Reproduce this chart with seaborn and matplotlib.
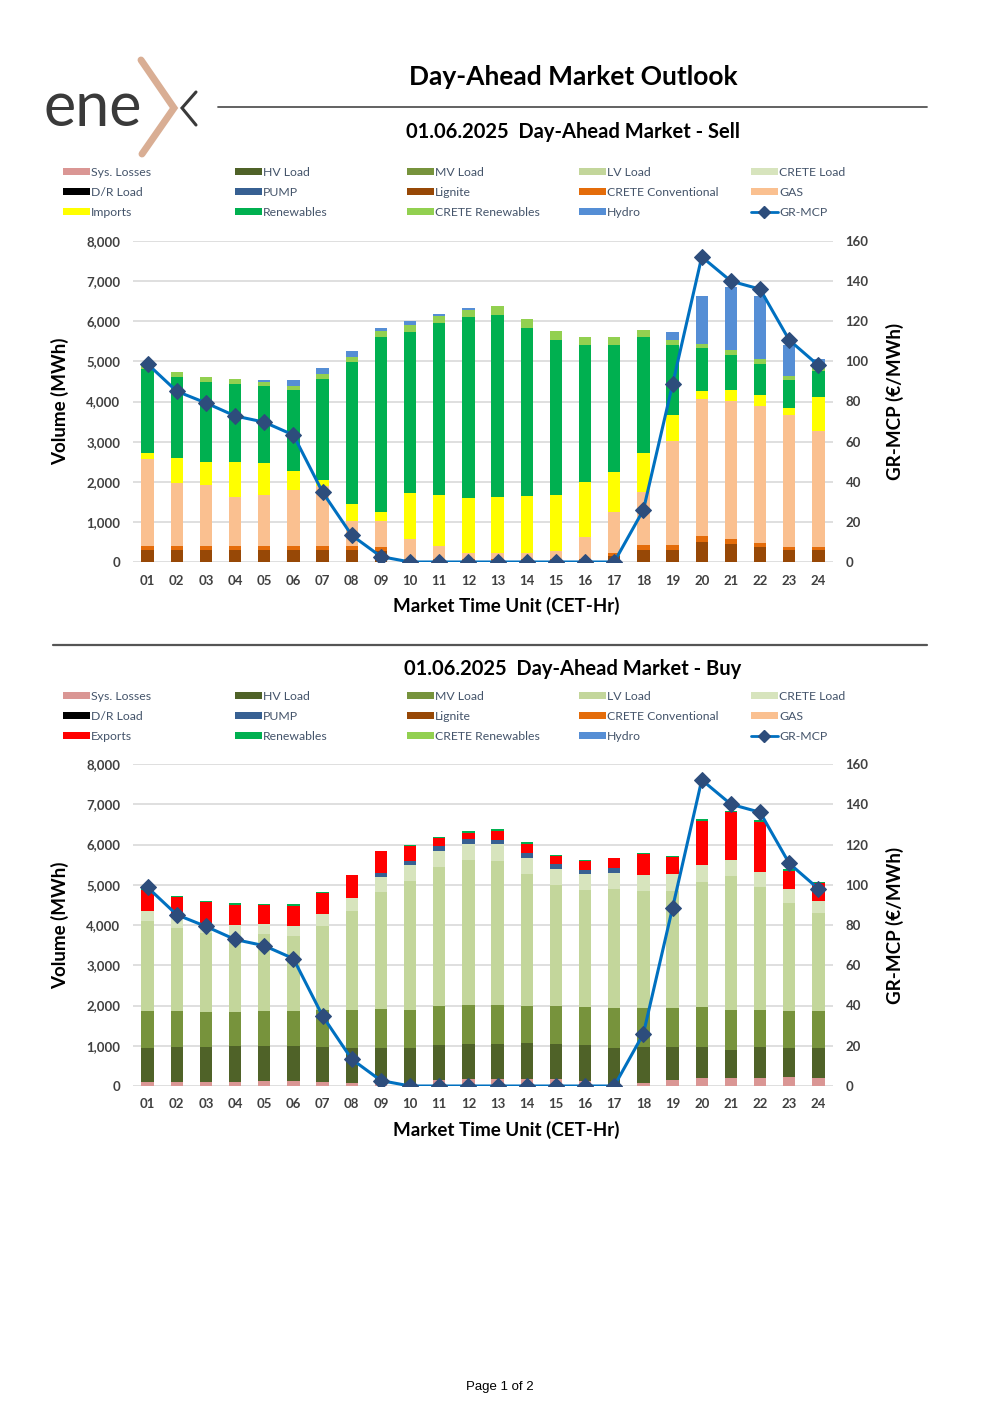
import numpy as np
import pandas as pd
import matplotlib
matplotlib.use("Agg")
import matplotlib.pyplot as plt
import seaborn as sns
from matplotlib.lines import Line2D
from matplotlib.patches import Patch
from matplotlib.ticker import FuncFormatter

hours = [f"{h:02d}" for h in range(1, 25)]

# GR-MCP (EUR/MWh), same for both charts
mcp = [98.7, 85.1, 79.3, 72.8, 69.7, 63.3, 34.8, 13.3, 2.7, 0, 0, 0,
       0, 0, 0, 0, 0, 26.0, 88.6, 152.1, 140.0, 136.0, 110.6, 98.0]

# Sell side (MWh)
sell_lignite = [290, 290, 290, 290, 290, 290, 290, 290, 270, 30, 30, 30,
                30, 30, 30, 30, 150, 290, 290, 498, 439, 365, 290, 290]
sell_crete_conv = [100, 100, 100, 100, 100, 100, 116, 100, 110, 45, 40, 40,
                   40, 40, 40, 40, 75, 125, 141, 157, 141, 116, 91, 91]
sell_gas = [2172, 1583, 1517, 1235, 1277, 1409, 1476, 638, 647, 497, 336, 162,
            162, 162, 212, 560, 1020, 1326, 2596, 3408, 3425, 3416, 3284, 2878]
sell_imports = [166, 622, 597, 871, 796, 465, 166, 423, 216, 1144, 1252, 1352,
                1393, 1401, 1376, 1360, 995, 970, 638, 207, 282, 257, 174, 854]
sell_renewables = [2090, 2024, 1974, 1932, 1923, 2015, 2521, 3541, 4353, 4022, 4296, 4511,
                   4536, 4204, 3881, 3416, 3176, 2903, 1733, 1053, 879, 788, 705, 655]
sell_crete_ren = [100, 116, 132, 124, 100, 107, 116, 124, 149, 158, 182, 182,
                  215, 216, 207, 208, 182, 165, 124, 116, 116, 108, 99, 99]
sell_hydro = [0, 0, 0, 0, 50, 141, 149, 141, 83, 116, 41, 50,
              0, 0, 0, 0, 0, 0, 199, 1194, 1567, 1567, 755, 199]

# Buy side (MWh)
buy_sys_losses = [108, 108, 108, 108, 124, 124, 100, 66, 41, 33, 149, 174,
                  182, 182, 182, 133, 17, 83, 149, 199, 199, 199, 216, 191]
buy_hv = [846, 870, 870, 879, 871, 879, 878, 879, 896, 904, 879, 879,
          871, 879, 863, 879, 928, 879, 821, 779, 705, 763, 729, 754]
buy_mv = [912, 888, 871, 862, 871, 863, 913, 946, 970, 945, 954, 962,
          954, 937, 953, 953, 987, 978, 962, 995, 995, 937, 912, 912]
buy_lv = [2222, 2064, 1951, 1871, 1915, 1865, 2089, 2454, 2902, 3201, 3466, 3607,
          3590, 3276, 2994, 2911, 2968, 2894, 2919, 3085, 3308, 3035, 2687, 2438]
buy_crete = [265, 241, 246, 285, 241, 249, 299, 332, 373, 398, 398, 398,
             406, 398, 398, 389, 390, 406, 414, 423, 407, 381, 340, 307]
buy_pump = [0, 0, 0, 0, 0, 0, 0, 0, 117, 108, 108, 116,
            108, 116, 116, 108, 116, 0, 0, 0, 0, 0, 0, 0]
buy_exports = [523, 514, 515, 497, 464, 489, 505, 572, 530, 365, 199, 149,
               216, 224, 207, 207, 249, 523, 415, 1103, 1194, 1252, 464, 439]
buy_renewables = [58, 41, 41, 42, 41, 42, 42, 0, 0, 41, 41, 42,
                  49, 41, 33, 34, 0, 33, 41, 41, 33, 42, 42, 34]

colors = {
    "Sys. Losses": "#DA9694", "HV Load": "#4F6228", "MV Load": "#77933C",
    "LV Load": "#C3D69B", "CRETE Load": "#D7E4BD", "D/R Load": "#000000",
    "PUMP": "#376092", "Lignite": "#974806", "CRETE Conventional": "#E46C0A",
    "GAS": "#FAC090", "Imports": "#FFFF00", "Exports": "#FF0000",
    "Renewables": "#00B050", "CRETE Renewables": "#92D050", "Hydro": "#558ED5",
}
line_color = "#0070C0"
marker_color = "#2D4D7C"

sell = pd.DataFrame({
    "Lignite": sell_lignite, "CRETE Conventional": sell_crete_conv, "GAS": sell_gas,
    "Imports": sell_imports, "Renewables": sell_renewables,
    "CRETE Renewables": sell_crete_ren, "Hydro": sell_hydro,
}, index=hours)
buy = pd.DataFrame({
    "Sys. Losses": buy_sys_losses, "HV Load": buy_hv, "MV Load": buy_mv,
    "LV Load": buy_lv, "CRETE Load": buy_crete, "PUMP": buy_pump,
    "Exports": buy_exports, "Renewables": buy_renewables,
}, index=hours)

legend_common = ["Sys. Losses", "HV Load", "MV Load", "LV Load", "CRETE Load",
                 "D/R Load", "PUMP", "Lignite", "CRETE Conventional", "GAS"]
sell_legend = legend_common + ["Imports", "Renewables", "CRETE Renewables", "Hydro", "GR-MCP"]
buy_legend = legend_common + ["Exports", "Renewables", "CRETE Renewables", "Hydro", "GR-MCP"]

sns.set_theme(style="white")
plt.rcParams["font.family"] = ["Lato", "DejaVu Sans"]

W, H = 1000, 1415
fig = plt.figure(figsize=(10, 14.15), dpi=100)


def fx(px):
    return px / W


def fy(py):
    return 1 - py / H


def draw_chart(df, top_px, bottom_px, legend_names, legend_y):
    ax = fig.add_axes([fx(133), fy(bottom_px), fx(700), (bottom_px - top_px) / H])
    cum = df.cumsum(axis=1)
    # stacked bars: draw cumulative totals from the top layer down
    for col in reversed(df.columns):
        sns.barplot(x=hours, y=cum[col].values, color=colors[col], width=0.42,
                    saturation=1, errorbar=None, linewidth=0, ax=ax, zorder=2)
    ax.set_xlim(-0.5, 23.5)
    ax.set_ylim(0, 8000)
    ax.set_yticks(range(0, 8001, 1000))
    ax.yaxis.set_major_formatter(FuncFormatter(lambda v, p: f"{v:,.0f}"))
    ax.grid(axis="y", color="#D9D9D9", lw=1.2)
    ax.set_axisbelow(True)
    sns.despine(ax=ax, left=True, bottom=True)
    ax.tick_params(length=0, labelsize=9.5, labelcolor="#404040", pad=9)
    for t in ax.get_xticklabels() + ax.get_yticklabels():
        t.set_fontweight("bold")
    ax.set_xlabel("")
    ax.set_ylabel("")

    ax2 = ax.twinx()
    sns.lineplot(x=np.arange(24), y=mcp, ax=ax2, color=line_color, lw=2.2,
                 marker="D", markersize=8.5, markerfacecolor=marker_color,
                 markeredgecolor=marker_color, zorder=5)
    ax2.set_ylim(0, 160)
    ax2.set_yticks(range(0, 161, 20))
    sns.despine(ax=ax2, left=True, bottom=True, right=True)
    ax2.tick_params(length=0, labelsize=9.5, labelcolor="#404040", pad=9)
    for t in ax2.get_yticklabels():
        t.set_fontweight("bold")
    ax2.set_ylabel("")
    ax2.set_xlim(-0.5, 23.5)

    mid = (top_px + bottom_px) / 2
    fig.text(fx(60), fy(mid), "Volume (MWh)", rotation=90, ha="center", va="center",
             fontsize=13.5, fontweight="bold", color="black")
    fig.text(fx(895), fy(mid), "GR-MCP (€/MWh)", rotation=90, ha="center", va="center",
             fontsize=13.5, fontweight="bold", color="black")
    fig.text(fx(506), fy(bottom_px + 44), "Market Time Unit (CET-Hr)", ha="center",
             va="center", fontsize=13.5, fontweight="bold", color="black")

    # legend: 5 evenly spaced columns, 3 rows
    for c in range(5):
        handles, labels = [], []
        for r in range(3):
            name = legend_names[r * 5 + c]
            if name == "GR-MCP":
                handles.append(Line2D([], [], color=line_color, lw=2, marker="D",
                                      markersize=6, markerfacecolor=marker_color,
                                      markeredgecolor=marker_color))
            else:
                handles.append(Patch(facecolor=colors[name], edgecolor="none"))
            labels.append(name)
        fig.legend(handles, labels, loc="upper left",
                   bbox_to_anchor=(fx(63 + 172 * c), fy(legend_y)),
                   frameon=False, fontsize=8.8, labelcolor="#44546A",
                   handlelength=2.2, handleheight=0.5, handletextpad=0.1,
                   labelspacing=0.72, borderpad=0, borderaxespad=0)
    return ax


# header
fig.text(fx(573), fy(77), "Day-Ahead Market Outlook", ha="center", va="center",
         fontsize=19, fontweight="bold", color="black")
fig.add_artist(Line2D([fx(218), fx(927)], [fy(107), fy(107)], color="#555555", lw=1.3))
fig.text(fx(573), fy(132), "01.06.2025  Day-Ahead Market - Sell", ha="center",
         va="center", fontsize=14.5, fontweight="bold", color="black")

# logo
fig.text(fx(44), fy(109), "ene", ha="left", va="center", fontsize=44,
         color="#3A3A3A", fontweight="normal")
fig.add_artist(Line2D([fx(141), fx(174), fx(142)], [fy(60), fy(108), fy(154)],
                      color="#D9AE94", lw=5, solid_joinstyle="miter", zorder=5))
fig.add_artist(Line2D([fx(196), fx(182), fx(196)], [fy(92), fy(108), fy(125)],
                      color="#3A3A3A", lw=2.2, solid_joinstyle="miter"))

draw_chart(sell, 241, 562, sell_legend, 167)

fig.add_artist(Line2D([fx(53), fx(927)], [fy(645), fy(645)], color="#555555", lw=1.6))
fig.text(fx(573), fy(669), "01.06.2025  Day-Ahead Market - Buy", ha="center",
         va="center", fontsize=14.5, fontweight="bold", color="black")

draw_chart(buy, 764, 1086, buy_legend, 691)

fig.text(fx(500), fy(1387), "Page 1 of 2", ha="center", va="center", fontsize=9.5,
         color="black", family=["Liberation Sans", "DejaVu Sans"])

fig.savefig("out.png", dpi=100)
